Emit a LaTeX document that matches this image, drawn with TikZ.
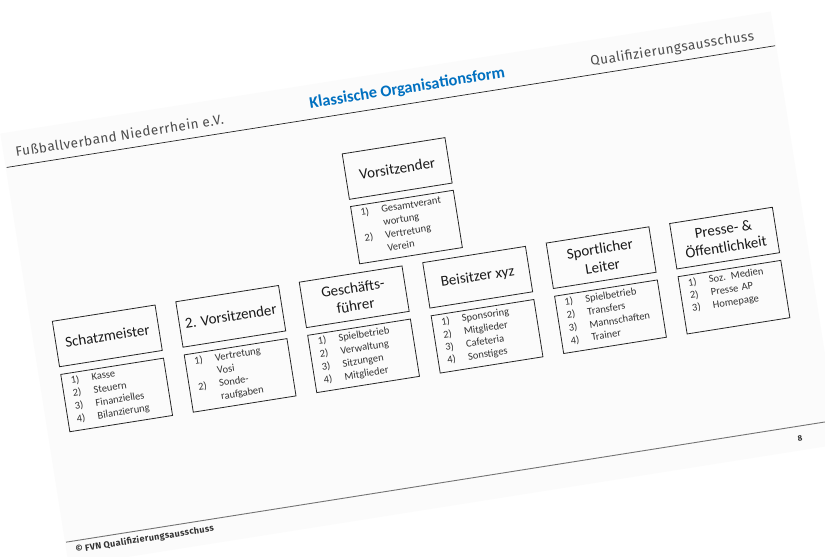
\documentclass[tikz,border=0pt]{standalone}
\usepackage{fontspec}
\setmainfont{Carlito}
\newfontfamily\headfont[LetterSpace=4]{Fira Sans}
\usetikzlibrary{positioning}
\definecolor{fvnblue}{RGB}{0,112,192}
\definecolor{headgray}{RGB}{75,75,75}
\tikzset{
	orgbox/.style={draw=black!85, line width=0.8pt, minimum width=104pt, minimum height=46pt,
		align=center, inner sep=2pt, text=black!90, font=\fontsize{15}{18}\selectfont, transform shape},
	taskbox/.style={draw=black!85, line width=0.8pt, minimum width=104pt, inner xsep=9pt, inner ysep=3pt,
		text width=86pt, text height=8pt, text depth=44pt, text=black!80,
		font=\fontsize{10.5}{13}\selectfont, transform shape},
	headtext/.style={anchor=base west, inner sep=0pt, text=headgray, font=\headfont\fontsize{13.5}{15}\selectfont, transform shape}
}
\begin{document}
\begin{tikzpicture}[x=1pt,y=1pt]
	\useasboundingbox (0,0) rectangle (825,-557);
	\fill[white] (0,0) rectangle (825,-557);
	\begin{scope}[shift={(412,-278)},rotate=9]
		% slide
		\fill[gray!3] (-384,207) rectangle (396,-231);
		\node[headtext] (verband) at (-372,181.4) {Fußballverband Niederrhein e.V.};
		\node[anchor=base west, inner sep=0pt, text=fvnblue, font=\bfseries\fontsize{16.3}{18}\selectfont, transform shape] (titel) at (-74,183.5) {Klassische Organisationsform};
		\node[headtext] (ausschuss) at (210,181.4) {Qualifizierungsausschuss};
		\draw[black!85, line width=0.7pt] (-383,172.6) -- (395,172.6);
		\draw[black!55, line width=0.9pt] (-383,-206.8) -- (395,-206.8);
		\node[anchor=base west, inner sep=0pt, text=black!80, font=\headfont\bfseries\fontsize{9}{10}\selectfont, transform shape] (copy) at (-375,-219) {© FVN Qualifizierungsausschuss};
		\node[anchor=base, inner sep=0pt, text=black!80, font=\headfont\bfseries\fontsize{8}{9}\selectfont, transform shape] (seite) at (358,-222) {8};
		% chart
		\node[orgbox] (vors) at (2.5,110.5) {Vorsitzender};
		\node[taskbox, below=6.5pt of vors] (vorsTasks) {\begin{tabular}[t]{@{}p{21pt}@{}l@{}}1) & Gesamtverant\\ & wortung\\ 2) & Vertretung\\ & Verein\end{tabular}};
		\node[orgbox] (schatz) at (-310,-9.5) {Schatzmeister};
		\node[taskbox, below=7pt of schatz] (schatzTasks) {\begin{tabular}[t]{@{}p{21pt}@{}l@{}}1) & Kasse\\ 2) & Steuern\\ 3) & Finanzielles\\ 4) & Bilanzierung\end{tabular}};
		\node[orgbox] (vize) at (-185,-9.5) {2. Vorsitzender};
		\node[taskbox, below=7pt of vize] (vizeTasks) {\begin{tabular}[t]{@{}p{21pt}@{}l@{}}1) & Vertretung\\ & Vosi\\ 2) & Sonde-\\ & raufgaben\end{tabular}};
		\node[orgbox] (gf) at (-60,-9.5) {Geschäfts-\\führer};
		\node[taskbox, below=7pt of gf] (gfTasks) {\begin{tabular}[t]{@{}p{21pt}@{}l@{}}1) & Spielbetrieb\\ 2) & Verwaltung\\ 3) & Sitzungen\\ 4) & Mitglieder\end{tabular}};
		\node[orgbox] (beisitzer) at (65,-9.5) {Beisitzer xyz};
		\node[taskbox, below=7pt of beisitzer] (beisitzerTasks) {\begin{tabular}[t]{@{}p{21pt}@{}l@{}}1) & Sponsoring\\ 2) & Mitglieder\\ 3) & Cafeteria\\ 4) & Sonstiges\end{tabular}};
		\node[orgbox] (sport) at (190,-9.5) {Sportlicher\\Leiter};
		\node[taskbox, below=7pt of sport] (sportTasks) {\begin{tabular}[t]{@{}p{21pt}@{}l@{}}1) & Spielbetrieb\\ 2) & Transfers\\ 3) & Mannschaften\\ 4) & Trainer\end{tabular}};
		\node[orgbox] (presse) at (315,-9.5) {Presse- \&\\Öffentlichkeit};
		\node[taskbox, below=7pt of presse] (presseTasks) {\begin{tabular}[t]{@{}p{21pt}@{}l@{}}1) & Soz. Medien\\ 2) & Presse AP\\ 3) & Homepage\end{tabular}};
	\end{scope}
\end{tikzpicture}
\end{document}
